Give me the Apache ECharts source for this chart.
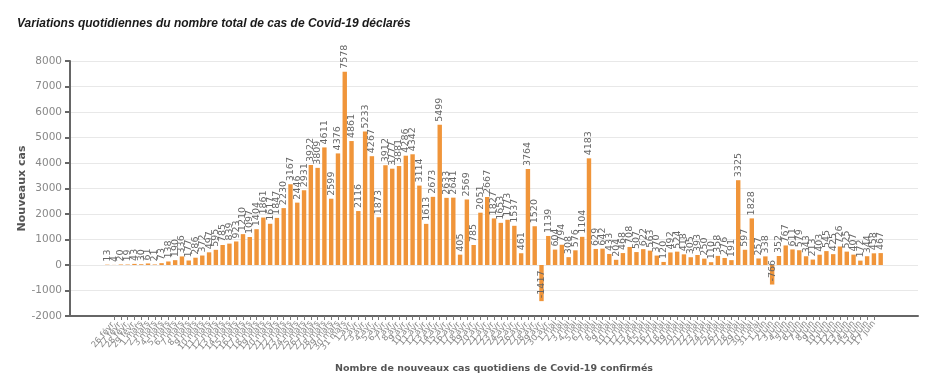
<!DOCTYPE html>
<html>
<head>
<meta charset="utf-8">
<script src="https://cdn.jsdelivr.net/npm/echarts@6/dist/echarts.min.js"></script>
<style>
html,body{margin:0;padding:0;background:#fff;}
#chart{width:944px;height:380px;}
</style>
</head>
<body>
<div id="chart"></div>
<script>
// Daily new cases, 25 Feb -> 18 Jun
const fevValues = [13, 4, 20, 19, 43];
const marsValues = [30, 61, 21, 73, 138, 190, 336, 177, 286, 372, 497, 595, 785, 839, 923, 1210, 1097, 1404, 1861, 1617, 1847, 2230, 3167, 2446, 2931, 3922, 3809, 4611, 2599, 4376, 7578];
const avrValues = [4861, 2116, 5233, 4267, 1873, 3912, 3777, 3881, 4286, 4342, 3114, 1613, 2673, 5499, 2633, 2641, 405, 2569, 785, 2051, 2667, 1827, 1653, 1773, 1537, 461, 3764, 1520, -1417, 1139];
const maiValues = [604, 794, 308, 576, 1104, 4183, 629, 642, 433, 204, 468, 708, 507, 622, 563, 370, 120, 492, 524, 418, 305, 393, 250, 110, 358, 276, 191, 3325, 597, 1828, 257];
const juinValues = [338, -766, 352, 767, 611, 579, 343, 213, 403, 545, 425, 726, 525, 407, 172, 344, 458, 467];

const monthNames = ['févr.', 'mars', 'avr.', 'mai', 'juin'];
const monthFirstDay = [25, 1, 1, 1, 1];

const monthValues = [fevValues, marsValues, avrValues, maiValues, juinValues];
const dateLabels = [];
const values = [];
monthValues.forEach((arr, m) => {
  arr.forEach((v, i) => {
    dateLabels.push((monthFirstDay[m] + i) + ' ' + monthNames[m]);
    values.push(v);
  });
});

const PAD = 5;
const N = values.length;
const categories = [];
const seriesData = [];
for (let i = 0; i < PAD; i++) { categories.push('padL' + i); seriesData.push('-'); }
dateLabels.forEach((d, i) => {
  categories.push(d);
  const v = values[i];
  if (v < 0) {
    seriesData.push({ value: v, label: { position: 'insideBottom', distance: 3 } });
  } else {
    seriesData.push(v);
  }
});
for (let i = 0; i < PAD; i++) { categories.push('padR' + i); seriesData.push('-'); }

const isReal = (idx) => idx >= PAD && idx < PAD + N;

const chart = echarts.init(document.getElementById('chart'), null, { renderer: 'canvas' });
chart.setOption({
  animation: false,
  backgroundColor: '#ffffff',
  title: {
    text: 'Variations quotidiennes du nombre total de cas de Covid-19 déclarés',
    left: 12,
    top: 13,
    textStyle: {
      fontFamily: 'Liberation Sans',
      fontSize: 12,
      fontWeight: 'bold',
      fontStyle: 'italic',
      color: '#1a1a1a'
    }
  },
  grid: { left: 70, right: 26, top: 61, bottom: 64, containLabel: false },
  xAxis: {
    type: 'category',
    data: categories,
    boundaryGap: true,
    name: 'Nombre de nouveaux cas quotidiens de Covid-19 confirmés',
    nameLocation: 'middle',
    nameGap: 48,
    nameMoveOverlap: false,
    nameTextStyle: { fontFamily: 'DejaVu Sans', fontSize: 9.5, fontWeight: 'bold', color: '#555' },
    axisLine: { onZero: false, lineStyle: { color: '#666', width: 2 } },
    axisTick: { show: true, alignWithLabel: true, interval: (i) => isReal(i), length: 4, lineStyle: { color: '#777', width: 1 } },
    axisLabel: {
      interval: (i) => isReal(i),
      rotate: 50,
      fontSize: 8.5,
      fontFamily: 'DejaVu Sans',
      color: '#888',
      margin: 6,
      formatter: (v) => (v.indexOf('pad') === 0 ? '' : v)
    },
    splitLine: { show: false }
  },
  yAxis: {
    type: 'value',
    min: -2000,
    max: 8000,
    interval: 1000,
    name: 'Nouveaux cas',
    nameLocation: 'middle',
    nameGap: 42,
    nameMoveOverlap: false,
    nameTextStyle: { fontFamily: 'DejaVu Sans', fontSize: 11, fontWeight: 'bold', color: '#555' },
    axisLine: { show: true, onZero: false, lineStyle: { color: '#666', width: 2 } },
    axisTick: { show: true, length: 5, lineStyle: { color: '#666', width: 2 } },
    axisLabel: {
      fontFamily: 'DejaVu Sans',
      fontSize: 10.5,
      color: '#888',
      margin: 8,
      formatter: (v) => String(v)
    },
    splitLine: { show: true, lineStyle: { color: '#e8e8e8', width: 1 } }
  },
  series: [{
    type: 'bar',
    data: seriesData,
    barCategoryGap: '35%',
    itemStyle: { color: '#f0953a' },
    label: {
      show: true,
      position: 'top',
      rotate: 90,
      align: 'left',
      verticalAlign: 'middle',
      distance: 3,
      fontFamily: 'DejaVu Sans',
      fontSize: 9.5,
      color: '#666'
    }
  }]
});
</script>
</body>
</html>
